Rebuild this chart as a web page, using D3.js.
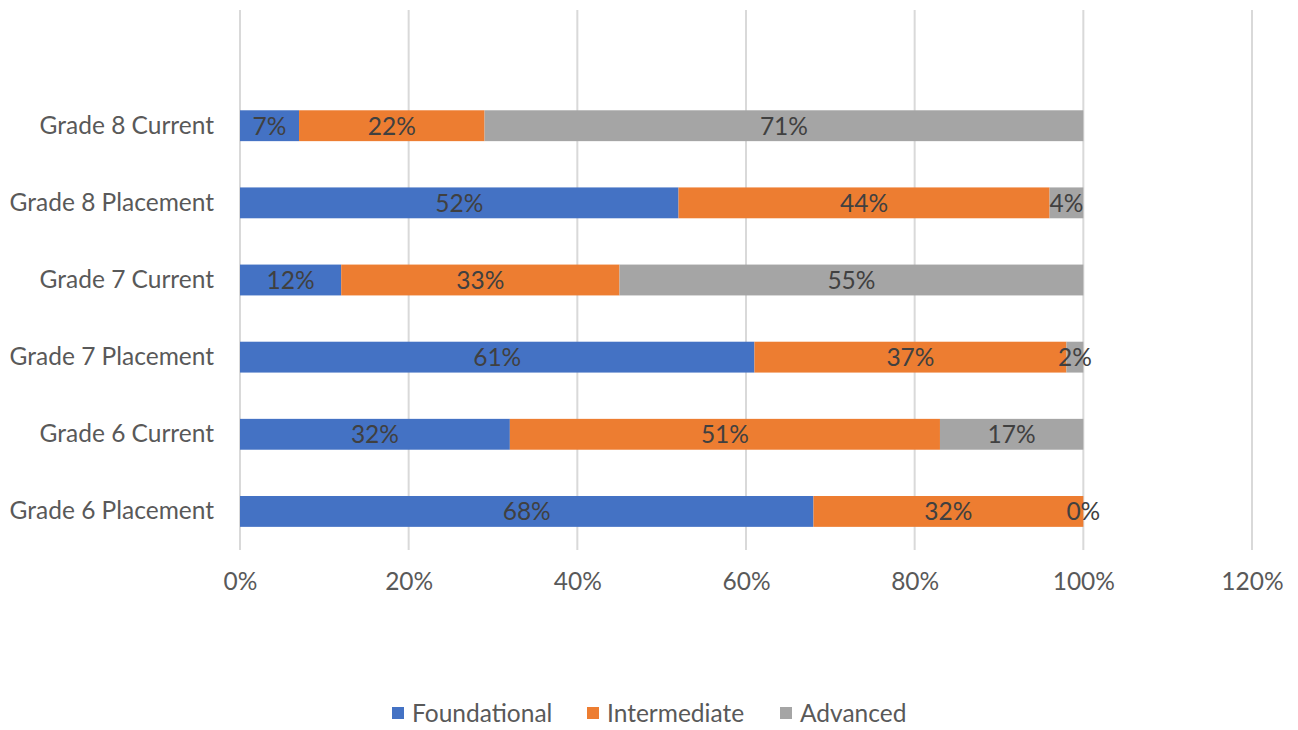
<!DOCTYPE html>
<html>
<head>
<meta charset="utf-8">
<script src="https://cdn.jsdelivr.net/npm/d3@7"></script>
<style>
  body { margin: 0; background: #fff; }
  svg text { font-family: "Lato", "Liberation Sans", sans-serif; }
</style>
</head>
<body>
<div id="chart"></div>
<script>
// Data (top row first)
const categories = ['Grade 8 Current', 'Grade 8 Placement', 'Grade 7 Current',
                    'Grade 7 Placement', 'Grade 6 Current', 'Grade 6 Placement'];
const seriesNames = ['Foundational', 'Intermediate', 'Advanced'];
const foundational = [0.07, 0.52, 0.12, 0.61, 0.32, 0.68];
const intermediate = [0.22, 0.44, 0.33, 0.37, 0.51, 0.32];
const advanced     = [0.71, 0.04, 0.55, 0.02, 0.17, 0.00];
const xTicks = [0, 0.2, 0.4, 0.6, 0.8, 1.0, 1.2];
const colors = ['#4472C4', '#ED7D31', '#A5A5A5'];

const width = 1298, height = 730;
const plot = {left: 240, right: 1252, top: 10, bottom: 550};
const fontSize = '24.5px';

const svg = d3.select('#chart').append('svg')
    .attr('width', width)
    .attr('height', height);

// build table for stack
const table = categories.map((c, i) => ({
    category: c,
    Foundational: foundational[i],
    Intermediate: intermediate[i],
    Advanced: advanced[i]
}));
const stacked = d3.stack().keys(seriesNames)(table);

const x = d3.scaleLinear()
    .domain([0, 1.2])
    .range([plot.left, plot.right]);

// Excel leaves one empty slot above the first row
const step = (plot.bottom - plot.top) / (categories.length + 1);
const y = d3.scaleBand()
    .domain(categories)
    .range([plot.top + step, plot.bottom])
    .paddingInner(0.6)
    .paddingOuter(0.3);

// Grid lines
svg.append('g')
    .selectAll('line')
    .data(xTicks)
    .enter()
    .append('line')
    .attr('x1', d => x(d))
    .attr('x2', d => x(d))
    .attr('y1', plot.top)
    .attr('y2', plot.bottom)
    .attr('stroke', '#D9D9D9')
    .attr('stroke-width', 2);

// X axis labels
svg.append('g')
    .attr('transform', `translate(0,${plot.bottom})`)
    .call(d3.axisBottom(x)
        .tickValues(xTicks)
        .tickFormat(d3.format('.0%'))
        .tickSize(0)
        .tickPadding(23))
    .call(g => g.select('.domain').remove())
    .call(g => g.selectAll('text')
        .attr('font-size', fontSize)
        .attr('fill', '#595959')
        .attr('font-family', '"Lato", "Liberation Sans", sans-serif'));

// Y axis labels
svg.append('g')
    .attr('transform', `translate(${plot.left},0)`)
    .call(d3.axisLeft(y).tickSize(0).tickPadding(26))
    .call(g => g.select('.domain').remove())
    .call(g => g.selectAll('text')
        .attr('font-size', fontSize)
        .attr('fill', '#595959')
        .attr('font-family', '"Lato", "Liberation Sans", sans-serif'));

// Bars
const layers = svg.append('g')
    .selectAll('g')
    .data(stacked)
    .enter()
    .append('g')
    .attr('fill', (d, i) => colors[i]);

layers.selectAll('rect')
    .data(d => d)
    .enter()
    .append('rect')
    .attr('x', d => x(d[0]))
    .attr('y', d => y(d.data.category))
    .attr('width', d => x(d[1]) - x(d[0]))
    .attr('height', y.bandwidth());

// Data labels
layers.selectAll('text')
    .data(d => d)
    .enter()
    .append('text')
    .attr('x', d => (x(d[0]) + x(d[1])) / 2)
    .attr('y', d => y(d.data.category) + y.bandwidth() / 2)
    .attr('dy', '0.36em')
    .attr('text-anchor', 'middle')
    .attr('font-size', fontSize)
    .attr('fill', '#404040')
    .text(d => d3.format('.0%')(d[1] - d[0]));

// Legend
const legendX = [392, 587, 780];
const legend = svg.append('g')
    .selectAll('g')
    .data(seriesNames)
    .enter()
    .append('g')
    .attr('transform', (d, i) => `translate(${legendX[i]},713)`);

legend.append('rect')
    .attr('x', 0)
    .attr('y', -6)
    .attr('width', 12)
    .attr('height', 12)
    .attr('fill', (d, i) => colors[i]);

legend.append('text')
    .attr('x', 20)
    .attr('dy', '0.36em')
    .attr('font-size', fontSize)
    .attr('fill', '#595959')
    .text(d => d);
</script>
</body>
</html>
